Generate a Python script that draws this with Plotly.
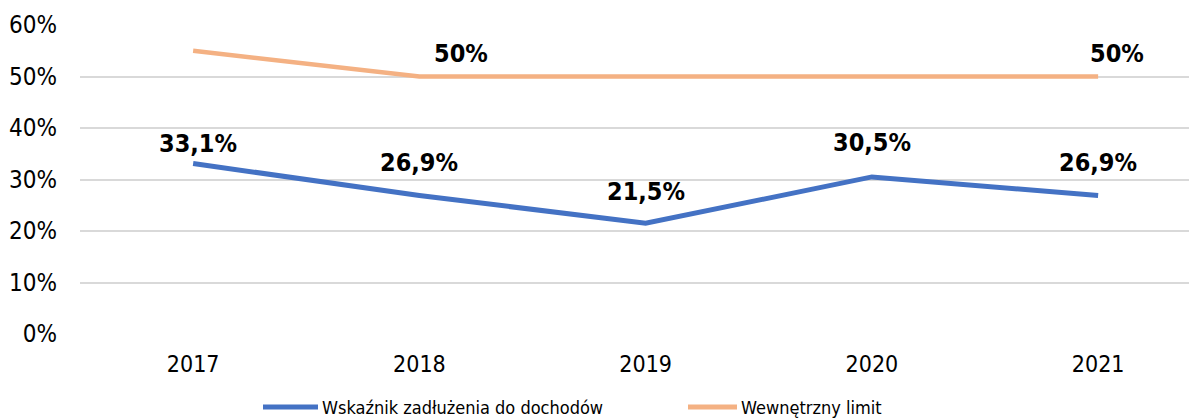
import plotly.graph_objects as go

years = ["2017", "2018", "2019", "2020", "2021"]
debt_ratio = [33.1, 26.9, 21.5, 30.5, 26.9]
debt_labels = ["33,1%", "26,9%", "21,5%", "30,5%", "26,9%"]
limit = [55, 50, 50, 50, 50]
limit_labels = ["", "50%", "", "", "50%"]
series_names = ["Wskaźnik zadłużenia do dochodów", "Wewnętrzny limit"]
y_ticks = [0, 10, 20, 30, 40, 50, 60]
y_tick_text = ["0%", "10%", "20%", "30%", "40%", "50%", "60%"]

BLUE = "#4472C4"
ORANGE = "#F4B183"
FONT = "DejaVu Sans Condensed, DejaVu Sans, sans-serif"

# label offsets (pixels) - Excel labels were nudged by hand
debt_shift = [(5, 20), (0, 33), (0, 32), (0, 34), (0, 33)]
limit_shift = [(0, 0), (42, 23), (0, 0), (0, 0), (19, 23)]

# page body has an 8px margin, so the figure is a bit smaller than the window
OFF = 8
FIG_W, FIG_H = 1197 - OFF, 419 - OFF
L, T, B = 80 - OFF, 25 - OFF, 419 - 334
W, H = FIG_W - L, 334 - 25

fig = go.Figure()
fig.add_trace(go.Scatter(x=years, y=debt_ratio, mode="lines", name=series_names[0],
                         line=dict(color=BLUE, width=5)))
fig.add_trace(go.Scatter(x=years, y=limit, mode="lines", name=series_names[1],
                         line=dict(color=ORANGE, width=4.5)))

label_font = dict(family=FONT, size=25, color="black", weight="bold")
for i, (y, t, (dx, dy)) in enumerate(zip(debt_ratio, debt_labels, debt_shift)):
    fig.add_annotation(x=i, y=y, text=t, showarrow=False, xshift=dx, yshift=dy, font=label_font)
for i, (y, t, (dx, dy)) in enumerate(zip(limit, limit_labels, limit_shift)):
    if t:
        fig.add_annotation(x=i, y=y, text=t, showarrow=False, xshift=dx, yshift=dy, font=label_font)

# legend drawn by hand to match the Excel look (page pixels)
legend_y = (334 - 407) / H
for (x0, x1, tx), name, col in zip([(263, 318, 320), (688, 737, 739)], series_names, [BLUE, ORANGE]):
    fig.add_shape(type="line", xref="paper", yref="paper",
                  x0=(x0 - 80) / W, x1=(x1 - 80) / W, y0=legend_y, y1=legend_y,
                  line=dict(color=col, width=5))
    fig.add_annotation(xref="paper", yref="paper", x=(tx - 80) / W, y=legend_y,
                       text=name, showarrow=False, xanchor="left", yanchor="middle",
                       font=dict(family=FONT, size=18, color="black"))

fig.update_layout(
    width=FIG_W, height=FIG_H,
    margin=dict(l=L, r=0, t=T, b=B),
    paper_bgcolor="white", plot_bgcolor="white",
    showlegend=False,
    font=dict(family=FONT, size=23, color="black"),
    xaxis=dict(type="category", range=[-0.5, 4.437], showgrid=False, showline=False,
               zeroline=False, ticks="", ticklabelstandoff=14),
    yaxis=dict(range=[0, 60], tickvals=y_ticks, ticktext=y_tick_text,
               gridcolor="#D9D9D9", gridwidth=1.5, zeroline=False, showline=False,
               ticks="", ticklabelstandoff=22, tickfont=dict(size=24)),
)

fig.write_html("out.html")
